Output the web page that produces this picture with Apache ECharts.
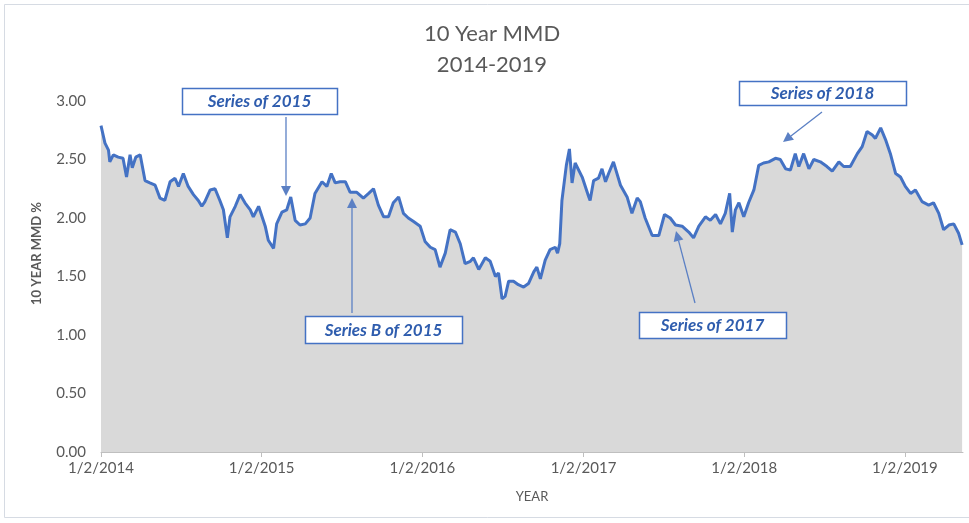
<!DOCTYPE html>
<html><head><meta charset="utf-8">
<script src="https://cdn.jsdelivr.net/npm/echarts@6/dist/echarts.min.js"></script>
<style>html,body{margin:0;padding:0;background:#fff}#c{width:969px;height:523px}</style>
</head><body><div id="c"></div>
<script>
const chartTitle = '10 Year MMD\n2014-2019';
const xAxisTitle = 'YEAR';
const yAxisTitle = '10 YEAR MMD %';
const tickDates = ['2014-01-02','2015-01-02','2016-01-02','2017-01-02','2018-01-02','2019-01-02'];
const dates = [
'2014-01-02','2014-01-11','2014-01-19','2014-01-22','2014-01-30','2014-02-10','2014-02-21','2014-03-01','2014-03-09','2014-03-14',
'2014-03-22','2014-04-01','2014-04-12','2014-04-23','2014-05-05','2014-05-16','2014-05-27','2014-06-08','2014-06-19','2014-06-27',
'2014-07-08','2014-07-19','2014-07-31','2014-08-11','2014-08-19','2014-08-26','2014-09-07','2014-09-18','2014-09-29','2014-10-07',
'2014-10-16','2014-10-22','2014-11-03','2014-11-14','2014-11-25','2014-12-07','2014-12-14','2014-12-26',
'2015-01-10','2015-01-17','2015-01-29','2015-02-05','2015-02-17','2015-02-28','2015-03-09','2015-03-19','2015-03-30','2015-04-11',
'2015-04-22','2015-05-03','2015-05-19','2015-05-30','2015-06-09','2015-06-18','2015-06-29','2015-07-11','2015-07-22','2015-08-06',
'2015-08-21','2015-09-02','2015-09-13','2015-09-24','2015-10-06','2015-10-17','2015-10-28','2015-11-09','2015-11-20','2015-12-01',
'2015-12-13','2015-12-28',
'2016-01-08','2016-01-20','2016-01-31','2016-02-11','2016-02-23','2016-03-05','2016-03-17','2016-03-28','2016-04-08','2016-04-20',
'2016-04-27','2016-05-09','2016-05-24','2016-06-04','2016-06-16','2016-06-23','2016-07-01','2016-07-08','2016-07-16','2016-07-27',
'2016-08-07','2016-08-19','2016-08-30','2016-09-11','2016-09-18','2016-09-26','2016-10-07','2016-10-18','2016-10-30','2016-11-04',
'2016-11-09','2016-11-14','2016-11-24','2016-12-01','2016-12-07','2016-12-14','2016-12-30',
'2017-01-14','2017-01-17','2017-01-25','2017-02-05','2017-02-13','2017-02-21','2017-02-28','2017-03-11','2017-03-27','2017-04-11',
'2017-04-22','2017-05-04','2017-05-11','2017-05-22','2017-06-07','2017-06-22','2017-07-05','2017-07-18','2017-07-30','2017-08-14',
'2017-08-29','2017-09-09','2017-09-21','2017-10-06','2017-10-17','2017-10-29','2017-11-09','2017-11-20','2017-11-30','2017-12-06',
'2017-12-13','2017-12-21',
'2018-01-01','2018-01-12','2018-01-24','2018-02-04','2018-02-15','2018-02-27','2018-03-14','2018-03-25','2018-04-06','2018-04-17',
'2018-04-28','2018-05-06','2018-05-17','2018-05-29','2018-06-09','2018-06-24','2018-07-09','2018-07-21','2018-08-05','2018-08-16',
'2018-08-31','2018-09-16','2018-09-27','2018-10-08','2018-10-20','2018-10-27','2018-11-08','2018-11-19','2018-11-30','2018-12-12',
'2018-12-23',
'2019-01-03','2019-01-15','2019-01-26','2019-02-10','2019-02-25','2019-03-08','2019-03-20','2019-03-31','2019-04-12','2019-04-23',
'2019-05-04','2019-05-12'
];
const mmd = [
2.79,2.64,2.58,2.48,2.54,2.52,2.51,2.35,2.54,2.43,
2.52,2.54,2.32,2.30,2.28,2.17,2.15,2.31,2.34,2.27,
2.38,2.27,2.20,2.15,2.10,2.14,2.24,2.25,2.15,2.07,
1.83,2.01,2.10,2.20,2.13,2.07,2.01,2.10,
1.93,1.81,1.74,1.95,2.05,2.07,2.18,1.98,1.94,1.95,
2.00,2.21,2.31,2.27,2.38,2.30,2.31,2.31,2.22,2.22,
2.17,2.21,2.25,2.11,2.01,2.01,2.13,2.18,2.04,2.00,
1.97,1.93,
1.80,1.75,1.73,1.58,1.70,1.90,1.88,1.78,1.61,1.63,
1.66,1.56,1.66,1.63,1.50,1.53,1.31,1.33,1.46,1.46,
1.43,1.41,1.44,1.54,1.58,1.48,1.64,1.73,1.75,1.70,
1.78,2.15,2.45,2.59,2.30,2.47,2.35,
2.18,2.15,2.32,2.34,2.42,2.31,2.38,2.48,2.28,2.18,
2.04,2.17,2.14,2.00,1.85,1.85,2.03,2.00,1.94,1.93,
1.88,1.83,1.93,2.01,1.98,2.03,1.95,2.04,2.21,1.88,
2.07,2.13,
2.01,2.13,2.24,2.45,2.47,2.48,2.51,2.50,2.42,2.41,
2.55,2.44,2.55,2.42,2.50,2.48,2.44,2.40,2.48,2.44,
2.44,2.55,2.61,2.74,2.71,2.68,2.77,2.67,2.55,2.38,
2.35,
2.27,2.21,2.24,2.14,2.11,2.13,2.04,1.90,1.94,1.95,
1.87,1.77
];
const annotationTexts = ['Series of 2015','Series B of 2015','Series of 2017','Series of 2018'];

function ts(s){ const p=s.split('-').map(Number); return Date.UTC(p[0],p[1]-1,p[2]); }
const tickValues = tickDates.map(ts);
const seriesData = dates.map((d,i)=>[ts(d), mmd[i]]);

// annotation layout (pixels): box [x,y,w,h], arrow from -> to
const annLayout = [
  {box:[182,88,155,26], from:[286,117], to:[286,196]},
  {box:[305,316,157,27], from:[352,313], to:[352,198]},
  {box:[639,312,147,26], from:[695,303], to:[676,231]},
  {box:[739,81,167,24], from:[822,112], to:[783,142]}
];
const annColor = '#4472C4', annText = '#2F5DAE', arrowColor = '#5B80C4';
function arrow(from,to){
  const dx=to[0]-from[0], dy=to[1]-from[1], L=Math.hypot(dx,dy), ux=dx/L, uy=dy/L;
  const hl=10, hw=5;
  const bx=to[0]-ux*hl, by=to[1]-uy*hl;
  return [
    {type:'line', shape:{x1:from[0],y1:from[1],x2:bx,y2:by}, style:{stroke:arrowColor,lineWidth:1.3}},
    {type:'polygon', shape:{points:[to,[bx-uy*hw,by+ux*hw],[bx+uy*hw,by-ux*hw]]}, style:{fill:arrowColor}}
  ];
}
const graphics = [
  {type:'rect', shape:{x:4.5,y:4.5,width:980,height:513}, style:{fill:'none',stroke:'#d6dbe3',lineWidth:1}, silent:true}
];
annLayout.forEach((a,i)=>{
  graphics.push({type:'rect', shape:{x:a.box[0]+0.5,y:a.box[1]+0.5,width:a.box[2],height:a.box[3]}, style:{fill:'#fff',stroke:annColor,lineWidth:1.5}, z:10});
  graphics.push({type:'text', x:a.box[0]+a.box[2]/2, y:a.box[1]+a.box[3]/2+1, z:11,
    style:{text:annotationTexts[i], fill:annText, font:'italic bold 17px Lato', align:'center', verticalAlign:'middle'}});
  arrow(a.from,a.to).forEach(g=>{g.z=10; graphics.push(g);});
});

const chart = echarts.init(document.getElementById('c'));
chart.setOption({
  animation:false,
  backgroundColor:'#fff',
  title:{text:chartTitle, left:487, top:13, textAlign:'center',
    textStyle:{fontFamily:'Lato', fontSize:22, fontWeight:'normal', color:'#595959', lineHeight:31}},
  grid:{left:101, right:6, top:101, bottom:71},
  xAxis:{type:'value', min:ts('2014-01-02'), max:ts('2019-05-14'),
    name:xAxisTitle, nameLocation:'middle', nameGap:38,
    nameTextStyle:{fontFamily:'Lato', fontSize:13, color:'#595959'},
    axisLine:{show:true, lineStyle:{color:'#bfbfbf', width:1}},
    axisTick:{show:true, customValues:tickValues, length:5, lineStyle:{color:'#bfbfbf'}},
    axisLabel:{customValues:tickValues, margin:9, fontFamily:'Lato', fontSize:15, color:'#595959',
      formatter:(v)=>{const d=new Date(v); return (d.getUTCMonth()+1)+'/'+d.getUTCDate()+'/'+d.getUTCFullYear();}},
    splitLine:{show:false}},
  yAxis:{type:'value', min:0, max:3, interval:0.5,
    name:yAxisTitle, nameLocation:'middle', nameGap:58, nameRotate:90,
    nameTextStyle:{fontFamily:'Lato', fontSize:13, fontWeight:'bold', color:'#595959', padding:[0,0,0,46]},
    axisLine:{show:false}, axisTick:{show:false}, splitLine:{show:false},
    axisLabel:{margin:15, fontFamily:'Lato', fontSize:15, color:'#595959', formatter:(v)=>v.toFixed(2)}},
  series:[{type:'line', data:seriesData, symbol:'none', smooth:false,
    lineStyle:{color:'#4472C4', width:3},
    areaStyle:{color:'#d9d9d9', opacity:1}}],
  graphic:graphics
});
</script></body></html>
